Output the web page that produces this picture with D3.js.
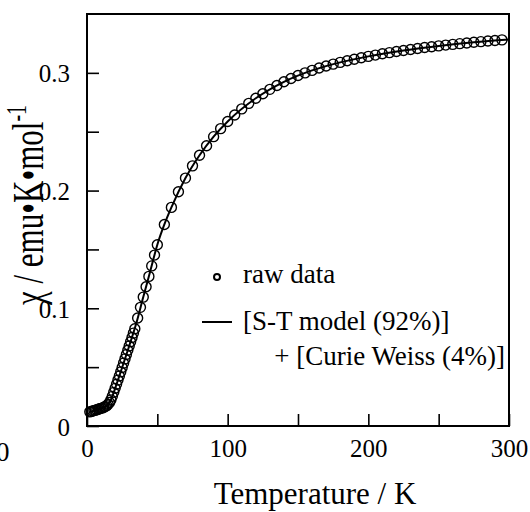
<!DOCTYPE html>
<html>
<head>
<meta charset="utf-8">
<script src="https://cdn.jsdelivr.net/npm/d3@7"></script>
<style>
  html, body { margin: 0; padding: 0; background: #fff; }
  svg { display: block; }
  text { font-family: "Liberation Serif", "Times New Roman", serif; fill: #000; }
</style>
</head>
<body>
<svg id="chart" width="530" height="512"></svg>
<script>
// Measured susceptibility: temperature (K) and chi*T (emu K mol^-1)
const rawT = [2,3,4,5,6,7,8,9,10,11,12,13,14,15,16,17,18,19,20,21,22,23,24,25,26,27,28,29,30,31,32,33,34,
  36,38,40,42,44,46,48,50,55,60,65,70,75,80,85,90,95,100,105,110,115,120,125,130,135,140,145,150,155,160,
  165,170,175,180,185,190,195,200,205,210,215,220,225,230,235,240,245,250,255,260,265,270,275,280,285,290,295];
const rawChiT = [0.0120,0.0124,0.0128,0.0131,0.0135,0.0138,0.0142,0.0146,0.0150,0.0154,0.0159,0.0165,0.0173,
  0.0184,0.0199,0.0222,0.0252,0.0286,0.0320,0.0355,0.0390,0.0425,0.0460,0.0497,0.0534,0.0570,0.0607,0.0643,
  0.0680,0.0716,0.0752,0.0789,0.0826,0.0918,0.1008,0.1095,0.1183,0.1271,0.1360,0.1452,0.1540,0.1712,0.1857,
  0.1990,0.2106,0.2210,0.2300,0.2381,0.2458,0.2526,0.2587,0.2642,0.2694,0.2741,0.2784,0.2823,0.2860,0.2893,
  0.2924,0.2952,0.2977,0.3000,0.3021,0.3041,0.3058,0.3074,0.3089,0.3103,0.3116,0.3128,0.3140,0.3151,0.3162,
  0.3172,0.3181,0.3190,0.3199,0.3207,0.3215,0.3222,0.3229,0.3236,0.3242,0.3248,0.3254,0.3260,0.3265,0.3270,
  0.3275,0.3280];

// Fitted curve: singlet-triplet model plus Curie-Weiss impurity
const fitT = [2,5,10,14,17,20,25,30,35,40,45,50,55,60,70,80,90,100,120,140,160,180,200,225,250,275,300];
const fitChiT = [0.0118,0.0130,0.0148,0.0172,0.0222,0.0320,0.0497,0.0680,0.0870,0.1095,0.1316,0.1540,0.1712,
  0.1857,0.2106,0.2300,0.2458,0.2587,0.2784,0.2924,0.3021,0.3089,0.3140,0.3190,0.3229,0.3260,0.3284];

const xTicks = [0, 50, 100, 150, 200, 250, 300];
const xTickLabels = ["0", "", "100", "", "200", "", "300"];
const yTicks = [0, 0.05, 0.1, 0.15, 0.2, 0.25, 0.3];
const yTickLabels = ["0", "", "0.1", "", "0.2", "", "0.3"];

const svg = d3.select("#chart");
const x = d3.scaleLinear().domain([0, 300]).range([87, 509]);
const y = d3.scaleLinear().domain([0, 0.35]).range([426, 14]);

// inward ticks on bottom and left axes
const xAxis = d3.axisBottom(x).tickValues(xTicks).tickSizeInner(-12).tickSizeOuter(0)
  .tickPadding(18).tickFormat((d, i) => xTickLabels[i]);
const gx = svg.append("g").attr("transform", `translate(0,${y(0)})`).call(xAxis);
gx.select(".domain").remove();
gx.selectAll(".tick line").attr("stroke", "#000").attr("stroke-width", 1.6);
gx.selectAll(".tick text").attr("font-size", 25).attr("dy", 0).attr("y", 31)
  .style("font-family", "'Liberation Serif', serif");

const yAxis = d3.axisLeft(y).tickValues(yTicks).tickSizeInner(-12).tickSizeOuter(0)
  .tickPadding(17).tickFormat((d, i) => yTickLabels[i]);
const gy = svg.append("g").attr("transform", `translate(${x(0)},0)`).call(yAxis);
gy.select(".domain").remove();
gy.selectAll(".tick line").attr("stroke", "#000").attr("stroke-width", 1.6);
gy.selectAll(".tick text").attr("font-size", 25).attr("dy", 0).attr("y", 9).attr("x", -17)
  .style("font-family", "'Liberation Serif', serif");

// plot frame
svg.append("rect")
  .attr("x", x(0)).attr("y", y(0.35))
  .attr("width", x(300) - x(0)).attr("height", y(0) - y(0.35))
  .attr("fill", "none").attr("stroke", "#000").attr("stroke-width", 2);

// raw data as open circles
const pts = rawT.map((t, i) => ({ t, v: rawChiT[i] }));
svg.append("g").selectAll("circle").data(pts).join("circle")
  .attr("cx", d => x(d.t)).attr("cy", d => y(d.v)).attr("r", 5)
  .attr("fill", "none").attr("stroke", "#000").attr("stroke-width", 1.4);

// fitted curve
const fit = fitT.map((t, i) => ({ t, v: fitChiT[i] }));
svg.append("path").datum(fit)
  .attr("d", d3.line().x(d => x(d.t)).y(d => y(d.v)).curve(d3.curveMonotoneX))
  .attr("fill", "none").attr("stroke", "#000").attr("stroke-width", 2);

// legend
svg.append("circle").attr("cx", 217).attr("cy", 277).attr("r", 3)
  .attr("fill", "none").attr("stroke", "#000").attr("stroke-width", 2);
svg.append("text").attr("x", 243).attr("y", 283).attr("font-size", 27).text("raw data");
svg.append("line").attr("x1", 202).attr("x2", 232).attr("y1", 322).attr("y2", 322)
  .attr("stroke", "#000").attr("stroke-width", 2);
svg.append("text").attr("x", 243).attr("y", 330).attr("font-size", 27).text("[S-T model (92%)]");
svg.append("text").attr("x", 505).attr("y", 365).attr("font-size", 27).attr("text-anchor", "end")
  .text("+ [Curie Weiss (4%)]");

// axis titles
svg.append("text").attr("x", 315).attr("y", 504).attr("font-size", 31).attr("text-anchor", "middle")
  .text("Temperature / K");

const yt = svg.append("text").attr("font-size", 31).attr("text-anchor", "middle")
  .attr("transform", "translate(43,205) rotate(-90) scale(1,1.45)");
yt.append("tspan").text("χ / emu•K•mol");
yt.append("tspan").attr("font-size", 20).attr("dy", -12).text("-1");

// stray label fragment at the lower left edge
svg.append("text").attr("x", -4).attr("y", 461).attr("font-size", 27).text("0");
</script>
</body>
</html>
